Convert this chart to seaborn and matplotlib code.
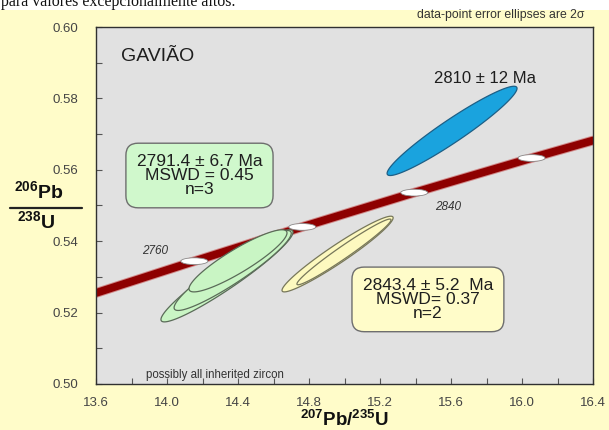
import numpy as np
import pandas as pd
import matplotlib
matplotlib.use("Agg")
import matplotlib.pyplot as plt
import seaborn as sns
from matplotlib.patches import Rectangle, Ellipse
from matplotlib.lines import Line2D

# Concordia trace (207Pb/235U vs 206Pb/238U) through its age ticks
conc_x = [13.60, 14.154, 14.762, 15.393, 16.054, 16.40]
conc_y = [0.5255, 0.5344, 0.5440, 0.5536, 0.5633, 0.5682]
tick_ages = [2760, 2800, 2840, 2880]
tick_x = [14.154, 14.762, 15.393, 16.054]
tick_y = [0.5344, 0.5440, 0.5536, 0.5633]
labelled_ages = {2760: (13.93, 0.5372), 2840: (15.585, 0.5496)}

# Zircon analyses: centre, half-width of the 2-sigma ellipse, error correlation
groups = ["green", "green", "green", "yellow", "yellow", "blue"]
x207 = [14.338, 14.37, 14.400, 14.961, 14.997, 15.606]
x_err = [0.372, 0.33, 0.276, 0.313, 0.265, 0.366]
y206 = [0.5303, 0.5318, 0.5345, 0.5364, 0.5370, 0.5709]
y_err = [0.0129, 0.0112, 0.0087, 0.0106, 0.0092, 0.0125]
rho = [0.948, 0.93, 0.898, 0.958, 0.975, 0.952]

analyses = pd.DataFrame({"group": groups, "x": x207, "sx": x_err,
                         "y": y206, "sy": y_err, "rho": rho})

fills = {"green": "#c9f5c4", "yellow": "#fdf9bf", "blue": "#1aa3de"}
edges = {"green": "#5a6b58", "yellow": "#77775a", "blue": "#1d5f86"}

x_ticks = [13.6, 14.0, 14.4, 14.8, 15.2, 15.6, 16.0, 16.4]
y_ticks = [0.50, 0.52, 0.54, 0.56, 0.58, 0.60]

sns.set_theme(style="ticks")
plt.rcParams["font.family"] = ["Liberation Sans", "DejaVu Sans"]
plt.rcParams["mathtext.fontset"] = "custom"
plt.rcParams["mathtext.rm"] = "Liberation Sans"
plt.rcParams["mathtext.bf"] = "Liberation Sans:bold"

W, H = 609, 430
fig = plt.figure(figsize=(W / 100, H / 100), dpi=100)
fig.patch.set_facecolor("#fffcc9")
fig.patches.append(Rectangle((0, 1 - 10 / H), 1, 10 / H, transform=fig.transFigure,
                             facecolor="white", edgecolor="none", zorder=0))
fig.text(1 / W, 1 - 6 / H, "para valores excepcionalmente altos.",
         family=["Liberation Serif", "DejaVu Serif"], fontsize=11.5,
         color="#111111", va="baseline", ha="left")

ax = fig.add_axes([96 / W, 1 - 384 / H, (593 - 96) / W, (384 - 27) / H])
ax.set_facecolor("#e1e1e1")

# concordia band
conc = pd.DataFrame({"x": conc_x, "y": conc_y})
sns.lineplot(data=conc, x="x", y="y", ax=ax, color="#c03030", lw=7.0,
             sort=False, alpha=0.5, zorder=2)
sns.lineplot(data=conc, x="x", y="y", ax=ax, color="#8e0000", lw=5.6,
             sort=False, zorder=2.1)

# error ellipses
t = np.linspace(0, 2 * np.pi, 240)
for i, r in analyses.iterrows():
    ex = r.x + r.sx * np.cos(t)
    ey = r.y + r.sy * (r.rho * np.cos(t) + np.sqrt(1 - r.rho ** 2) * np.sin(t))
    ax.fill(ex, ey, facecolor=fills[r.group], edgecolor=edges[r.group],
            lw=0.9, zorder=3 + 0.01 * i)

# age ticks on concordia
for xa, ya in zip(tick_x, tick_y):
    ax.add_patch(Ellipse((xa, ya), 0.152, 0.0019, facecolor="white",
                         edgecolor="#8a8a8a", lw=0.6, zorder=5))
for age, (lx, ly) in labelled_ages.items():
    ax.text(lx, ly, str(age), fontsize=8.5, style="italic", color="#333333",
            ha="center", va="center", zorder=6)

# age results
box_kw = dict(ha="center", va="center", fontsize=12.5, color="#1e1e1e",
              linespacing=0.92, zorder=7)
ax.text(14.183, 0.5584, "2791.4 ± 6.7 Ma\nMSWD = 0.45\nn=3",
        bbox=dict(boxstyle="round,pad=0.62,rounding_size=0.7",
                  facecolor="#d0f8cc", edgecolor="#6e6e6e", lw=1.0), **box_kw)
ax.text(15.47, 0.5237, "2843.4 ± 5.2  Ma\nMSWD= 0.37\nn=2",
        bbox=dict(boxstyle="round,pad=0.62,rounding_size=0.7",
                  facecolor="#fffcc9", edgecolor="#6e6e6e", lw=1.0), **box_kw)
ax.text(15.79, 0.5857, "2810 ± 12 Ma", fontsize=12, color="#1e1e1e",
        ha="center", va="center", zorder=7)
ax.text(13.74, 0.5917, "GAVIÃO", fontsize=14, color="#1e1e1e",
        ha="left", va="center", zorder=7)
ax.text(13.88, 0.5025, "possibly all inherited zircon", fontsize=8.3,
        color="#333333", ha="left", va="center", zorder=7)
fig.text(584 / W, 1 - 15 / H, "data-point error ellipses are 2σ", fontsize=8.8,
         color="#333333", ha="right", va="center")

ax.set_xlim(13.6, 16.4)
ax.set_ylim(0.50, 0.60)
ax.set_xticks(x_ticks)
ax.set_xticklabels([f"{v:.1f}" for v in x_ticks])
ax.set_yticks(y_ticks)
ax.set_yticklabels([f"{v:.2f}" for v in y_ticks])
ax.set_xticks(np.arange(13.8, 16.4, 0.4), minor=True)
ax.set_yticks(np.arange(0.51, 0.60, 0.02), minor=True)
ax.tick_params(which="both", direction="in", color="#555555", width=0.8)
ax.tick_params(which="major", length=4)
ax.tick_params(which="minor", length=4)
ax.tick_params(axis="y", which="major", pad=13, labelsize=9.5, labelcolor="#444444")
ax.tick_params(axis="x", which="major", pad=9, labelsize=9.5, labelcolor="#444444")
for s in ax.spines.values():
    s.set_color("#303030")
    s.set_linewidth(1.0)
ax.set_xlabel("")
ax.set_ylabel("")

# axis titles as isotope ratios
fig.text(344 / W, 1 - 420 / H, r"$\mathbf{^{207}Pb/^{235}U}$", fontsize=13.5,
         ha="center", va="center", color="#111111")
fig.text(39 / W, 1 - 191 / H, r"$\mathbf{^{206}Pb}$", fontsize=14,
         ha="center", va="center", color="#111111")
fig.text(36 / W, 1 - 221 / H, r"$\mathbf{^{238}U}$", fontsize=14,
         ha="center", va="center", color="#111111")
fig.add_artist(Line2D([10 / W, 82 / W], [1 - 208 / H, 1 - 208 / H],
                      transform=fig.transFigure, color="#222222", lw=1.6))

fig.savefig("out.png", dpi=100, facecolor=fig.get_facecolor())
